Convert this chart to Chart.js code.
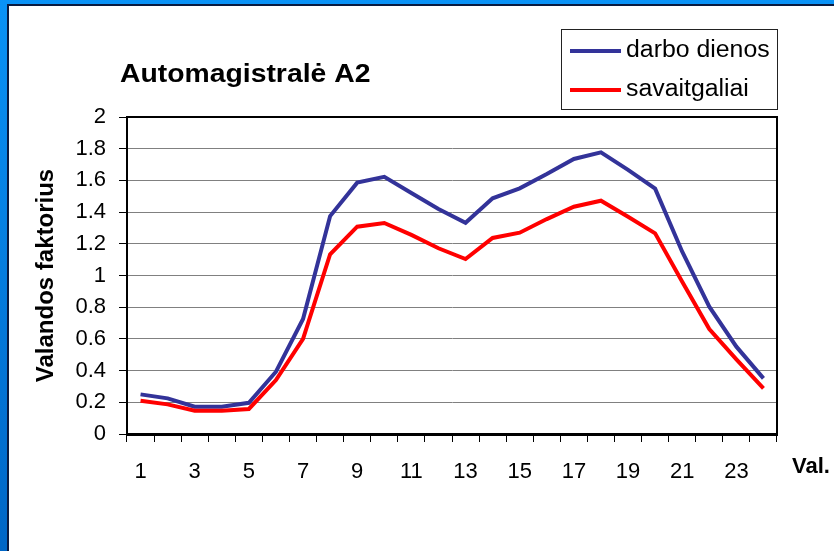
<!DOCTYPE html>
<html>
<head>
<meta charset="utf-8">
<script src="https://cdn.jsdelivr.net/npm/chart.js@4.4.1/dist/chart.umd.min.js"></script>
<style>
    html, body { margin: 0; padding: 0; width: 834px; height: 551px; overflow: hidden; }
    body { position: relative; background: linear-gradient(#0a92f6, #0066c6); }
    #sheet { position: absolute; left: 7px; top: 4px; width: 900px; height: 600px; background: #fff;
             border-left: 2px solid #0a1a40; border-top: 2px solid #0a1a40; }
    #chart { position: absolute; left: 0; top: 0; }
</style>
</head>
<body>
<div id="sheet"></div>
<canvas id="chart" width="834" height="551"></canvas>
<script>
const hours = ["1", "2", "3", "4", "5", "6", "7", "8", "9", "10", "11", "12",
               "13", "14", "15", "16", "17", "18", "19", "20", "21", "22", "23", "24"];
const workdays = [0.25, 0.225, 0.172, 0.172, 0.197, 0.393, 0.726, 1.375, 1.586, 1.623, 1.52, 1.42,
                  1.333, 1.487, 1.55, 1.64, 1.735, 1.777, 1.666, 1.548, 1.15, 0.803, 0.551, 0.351];
const weekends = [0.21, 0.187, 0.147, 0.147, 0.158, 0.34, 0.6, 1.134, 1.308, 1.331, 1.256, 1.172,
                  1.104, 1.237, 1.27, 1.356, 1.434, 1.472, 1.371, 1.266, 0.961, 0.662, 0.471, 0.288];
const yTicks = [0, 0.2, 0.4, 0.6, 0.8, 1, 1.2, 1.4, 1.6, 1.8, 2];

const FONT = "'Liberation Sans', Arial, sans-serif";

// stretched text, the original slide is a bit wider than the font
function wideText(ctx, text, x, y, sx) {
    ctx.save();
    ctx.translate(x, y);
    ctx.scale(sx, 1);
    ctx.fillText(text, 0, 0);
    ctx.restore();
}

// title, legend box, plot frame and "Val." label
const decor = {
    id: "decor",
    afterDraw(chart) {
        const { ctx, chartArea: a } = chart;
        ctx.save();

        ctx.strokeStyle = "#000";
        ctx.lineWidth = 2;
        ctx.beginPath();
        ctx.moveTo(a.left, a.top);
        ctx.lineTo(a.right, a.top);
        ctx.lineTo(a.right, a.bottom);
        ctx.stroke();

        ctx.fillStyle = "#000";
        ctx.font = "bold 26px " + FONT;
        ctx.textBaseline = "alphabetic";
        wideText(ctx, "Automagistralė A2", 120, 82, 1.09);

        ctx.font = "bold 22px " + FONT;
        ctx.fillText("Val.", 792, 473);

        // legend
        ctx.fillStyle = "#fff";
        ctx.fillRect(561.5, 29.5, 216, 80);
        ctx.strokeStyle = "#222";
        ctx.lineWidth = 1;
        ctx.strokeRect(561.5, 29.5, 216, 80);
        const rows = [51, 90];
        chart.data.datasets.forEach((ds, i) => {
            ctx.strokeStyle = ds.borderColor;
            ctx.lineWidth = 4;
            ctx.beginPath();
            ctx.moveTo(570, rows[i]);
            ctx.lineTo(621, rows[i]);
            ctx.stroke();
            ctx.fillStyle = "#000";
            ctx.font = "23px " + FONT;
            wideText(ctx, ds.label, 626, rows[i] + 6, 1.08);
        });
        ctx.restore();
    }
};

new Chart(document.getElementById("chart").getContext("2d"), {
    type: "line",
    data: {
        labels: hours,
        datasets: [
            {
                label: "darbo dienos",
                data: workdays,
                borderColor: "#333399",
                borderWidth: 4,
                pointRadius: 0,
                tension: 0,
                order: 1
            },
            {
                label: "savaitgaliai",
                data: weekends,
                borderColor: "#ff0000",
                borderWidth: 4,
                pointRadius: 0,
                tension: 0,
                order: 0
            }
        ]
    },
    options: {
        responsive: false,
        animation: false,
        layout: { padding: { top: 117, right: 57, bottom: 0, left: 0 } },
        plugins: { legend: { display: false }, tooltip: { enabled: false } },
        scales: {
            x: {
                offset: true,
                ticks: {
                    autoSkip: false, maxRotation: 0, padding: 17, color: "#000",
                    font: { size: 22, family: FONT },
                    callback: (v, i) => (i % 2 === 0 ? hours[i] : "")
                },
                grid: { offset: true, drawOnChartArea: false, tickColor: "#000", tickLength: 8, lineWidth: 1 },
                border: { color: "#000", width: 3 },
                afterFit: s => { s.height = 117; }
            },
            y: {
                min: 0,
                max: 2,
                afterBuildTicks: s => { s.ticks = yTicks.map(v => ({ value: v })); },
                ticks: {
                    padding: 13, color: "#000",
                    font: { size: 22, family: FONT },
                    callback: v => String(Math.round(v * 10) / 10)
                },
                grid: { color: "#808080", lineWidth: 1, tickColor: "#000", tickLength: 8 },
                border: { color: "#000", width: 2 },
                title: {
                    display: true, text: "Valandos faktorius", color: "#000",
                    font: { size: 24, weight: "bold", family: FONT },
                    padding: { top: 32, bottom: 0 }
                },
                afterFit: s => { s.width = 127; }
            }
        }
    },
    plugins: [decor]
});
</script>
</body>
</html>
